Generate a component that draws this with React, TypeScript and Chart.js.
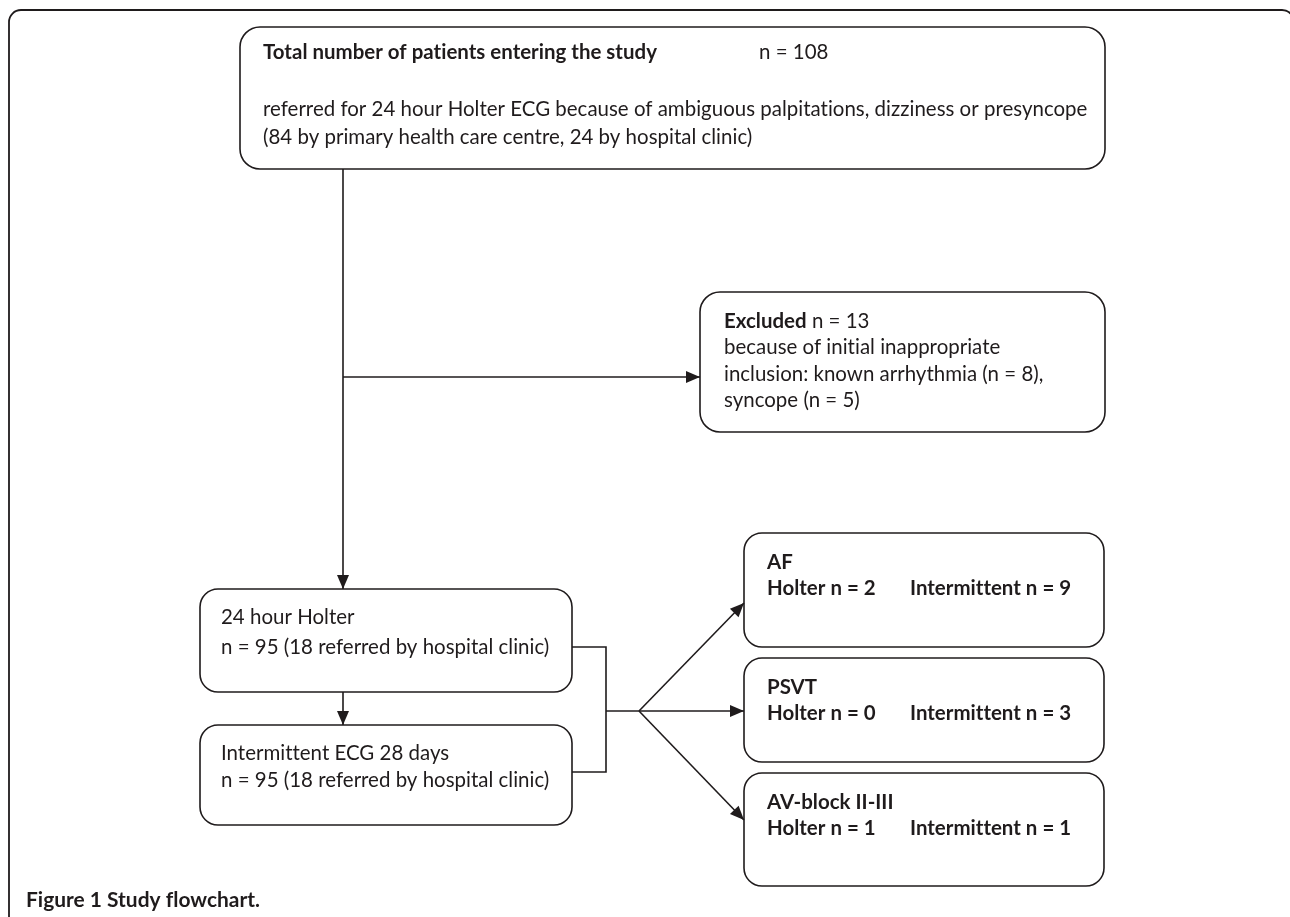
import React, { useEffect, useRef } from 'react';
import { Chart, registerables } from 'chart.js';

Chart.register(...registerables);

// ---------- content (data) ----------
const topTitle = 'Total number of patients entering the study';
const totalN = [108];
const topLines = [
  'referred for 24 hour Holter ECG because of ambiguous palpitations, dizziness or presyncope',
  '(84 by primary health care centre, 24 by hospital clinic)',
];
const excludedN = [13];
const excludedReasons = ['known arrhythmia', 'syncope'];
const excludedCounts = [8, 5];
const methods = ['24 hour Holter', 'Intermittent ECG 28 days'];
const methodN = [95, 95];
const methodHospital = [18, 18];
const outcomes = ['AF', 'PSVT', 'AV-block II-III'];
const holterCounts = [2, 0, 1];
const intermittentCounts = [9, 3, 1];
const captionText = 'Figure 1 Study flowchart.';

// ---------- layout (scale units) ----------
const W = 1290;
const H = 917;
const boxTotal = [240, 27, 1105, 169];
const boxExcluded = [700, 292, 1105, 432];
const boxMethods = [
  [200, 589, 572, 692],
  [200, 725, 572, 825],
];
const boxOutcomes = [
  [744, 533, 1104, 647],
  [744, 658, 1104, 762],
  [744, 773, 1104, 886],
];
const connectors: { pts: number[][]; arrow: boolean }[] = [
  { pts: [[343, 169], [343, 589]], arrow: true },
  { pts: [[343, 377], [700, 377]], arrow: true },
  { pts: [[343, 692], [343, 725]], arrow: true },
  { pts: [[572, 647], [606, 647], [606, 772], [572, 772]], arrow: false },
  { pts: [[606, 711], [639, 711]], arrow: false },
  { pts: [[639, 711], [744, 603]], arrow: true },
  { pts: [[639, 711], [744, 711]], arrow: true },
  { pts: [[639, 711], [744, 820]], arrow: true },
];

const INK = '#1f1b1c';
const FONT = 'Lato, "Open Sans", sans-serif';

export default function App() {
  const ref = useRef<HTMLCanvasElement | null>(null);

  useEffect(() => {
    const canvas = ref.current;
    if (!canvas) return;

    const flowPlugin = {
      id: 'flow',
      afterDatasetsDraw(chart: any) {
        const ctx = chart.ctx as any;
        const xs = chart.scales.x;
        const ys = chart.scales.y;
        const px = (v: number) => xs.getPixelForValue(v);
        const py = (v: number) => ys.getPixelForValue(v);

        ctx.save();
        try { ctx.letterSpacing = '0.01px'; } catch (e) { /* ignore */ }
        try { ctx.textRendering = 'optimizeSpeed'; } catch (e) { /* ignore */ }

        // fit base font size to the long line width
        ctx.font = `100px ${FONT}`;
        const base = (100 * 824) / ctx.measureText(topLines[0]).width;
        ctx.font = `bold 100px ${FONT}`;
        const capSize = (100 * 234) / ctx.measureText(captionText).width;

        const rrect = (b: number[], r: number) => {
          const x0 = px(b[0]), y0 = py(b[1]), x1 = px(b[2]), y1 = py(b[3]);
          ctx.beginPath();
          ctx.roundRect(x0, y0, x1 - x0, y1 - y0, r);
          ctx.stroke();
        };

        ctx.strokeStyle = INK;
        ctx.lineWidth = 1.8;
        // outer frame
        rrect([9, 10, 1294, 990], 12);
        ctx.lineWidth = 1.6;
        rrect(boxTotal, 20);
        rrect(boxExcluded, 20);
        boxMethods.forEach((b) => rrect(b, 18));
        boxOutcomes.forEach((b) => rrect(b, 18));

        // arrowheads
        ctx.fillStyle = INK;
        connectors.forEach((c) => {
          if (!c.arrow) return;
          const a = c.pts[c.pts.length - 2];
          const b = c.pts[c.pts.length - 1];
          const ax = px(a[0]), ay = py(a[1]), bx = px(b[0]), by = py(b[1]);
          const ang = Math.atan2(by - ay, bx - ax);
          const L = 14, Wd = 6;
          ctx.beginPath();
          ctx.moveTo(bx, by);
          ctx.lineTo(bx - L * Math.cos(ang) + Wd * Math.sin(ang), by - L * Math.sin(ang) - Wd * Math.cos(ang));
          ctx.lineTo(bx - L * Math.cos(ang) - Wd * Math.sin(ang), by - L * Math.sin(ang) + Wd * Math.cos(ang));
          ctx.closePath();
          ctx.fill();
        });

        // text
        ctx.textBaseline = 'middle';
        ctx.textAlign = 'left';
        const runs = (x: number, y: number, parts: [string, boolean][], size = base) => {
          let cx = px(x);
          parts.forEach(([t, bold]) => {
            ctx.font = `${bold ? 'bold ' : ''}${size}px ${FONT}`;
            ctx.fillText(t, cx, py(y));
            cx += ctx.measureText(t).width;
          });
        };

        runs(263, 52, [[topTitle, true]]);
        runs(759, 52, [[`n = ${totalN[0]}`, false]]);
        runs(263, 109, [[topLines[0], false]]);
        runs(263, 137, [[topLines[1], false]]);

        runs(724, 321, [['Excluded', true], [` n = ${excludedN[0]}`, false]]);
        runs(724, 347, [['because of initial inappropriate', false]]);
        runs(724, 374, [[`inclusion: ${excludedReasons[0]} (n = ${excludedCounts[0]}),`, false]]);
        runs(724, 400, [[`${excludedReasons[1]} (n = ${excludedCounts[1]})`, false]]);

        const methodY = [[617, 647], [753, 780]];
        methods.forEach((m, i) => {
          runs(221, methodY[i][0], [[m, false]]);
          runs(221, methodY[i][1], [[`n = ${methodN[i]} (${methodHospital[i]} referred by hospital clinic)`, false]]);
        });

        outcomes.forEach((o, i) => {
          const top = boxOutcomes[i][1];
          runs(767, top + 29, [[o, true]]);
          runs(767, top + 55, [[`Holter n = ${holterCounts[i]}`, true]]);
          runs(910, top + 55, [[`Intermittent n = ${intermittentCounts[i]}`, true]]);
        });

        runs(26, 900, [[captionText, true]], capSize);
        ctx.restore();
      },
    };

    const chart = new Chart(canvas, {
      type: 'scatter',
      data: {
        datasets: connectors.map((c) => ({
          data: c.pts.map((p) => ({ x: p[0], y: p[1] })),
          showLine: true,
          borderColor: INK,
          borderWidth: 1.6,
          pointRadius: 0,
          pointHoverRadius: 0,
          fill: false,
          tension: 0,
        })),
      },
      options: {
        animation: false,
        responsive: false,
        events: [],
        layout: { padding: 0 },
        plugins: { legend: { display: false }, tooltip: { enabled: false } },
        scales: {
          x: { type: 'linear', min: 0, max: W, display: false },
          y: { type: 'linear', min: 0, max: H, reverse: true, display: false },
        },
      },
      plugins: [flowPlugin],
    });
    return () => chart.destroy();
  }, []);

  return (
    <div style={{ position: 'fixed', left: 0, top: 0, width: W, height: H, background: '#fff' }}>
      <canvas ref={ref} width={W} height={H} style={{ display: 'block' }} />
    </div>
  );
}
